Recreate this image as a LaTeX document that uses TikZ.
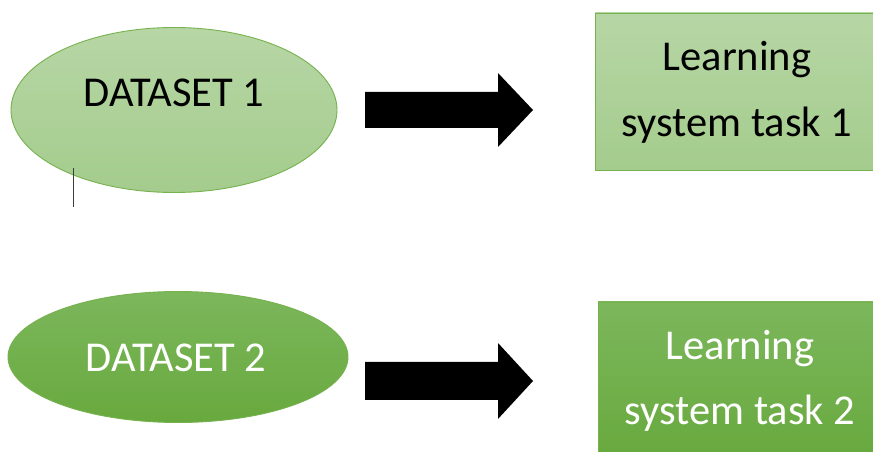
\documentclass[tikz,border=0pt]{standalone}
\usepackage{fontspec}
\setmainfont{Carlito}
\usetikzlibrary{shapes.geometric}
\definecolor{lgtop}{RGB}{183,214,165}
\definecolor{lgbot}{RGB}{164,204,141}
\definecolor{dgtop}{RGB}{124,183,92}
\definecolor{dgbot}{RGB}{104,169,62}
\definecolor{gline}{RGB}{118,178,78}
\definecolor{cursor}{RGB}{60,60,60}
\tikzset{
  lightshape/.style={draw=gline, line width=0.9pt, top color=lgtop, bottom color=lgbot, inner sep=0pt},
  darkshape/.style={draw=gline, line width=0.9pt, top color=dgtop, bottom color=dgbot, inner sep=0pt},
  lbl/.style={font=\fontsize{42.5}{50}\selectfont, inner sep=0pt, anchor=base},
  blockarrow/.style={fill=black, draw=none},
}
\begin{document}
\begin{tikzpicture}[x=1pt,y=1pt]
\useasboundingbox (0,0) rectangle (873,452);
\clip (0,0) rectangle (873,452);
\fill[white] (0,0) rectangle (873,452);
% ellipses
\node[lightshape, ellipse, minimum width=326pt, minimum height=165pt] (ds1) at (174,342) {};
\node[darkshape, ellipse, minimum width=340pt, minimum height=131pt] (ds2) at (178,95) {};
% rectangles
\node[lightshape, rectangle, minimum width=284pt, minimum height=157pt] (ls1) at (737,360.5) {};
\node[darkshape, rectangle, minimum width=284pt, minimum height=156pt] (ls2) at (740,72) {};
% texts
\node[lbl, text=black] (t1) at (174,345) {DATASET 1};
\node[lbl, text=white] (t2) at (176,80) {DATASET 2};
\node[lbl, text=black] (t3a) at (737,381) {Learning};
\node[lbl, text=black] (t3b) at (737,315) {system task 1};
\node[lbl, text=white] (t4a) at (740,92) {Learning};
\node[lbl, text=white] (t4b) at (740,27) {system task 2};
% block arrows
\coordinate (a1) at (365,342);
\coordinate (a2) at (365,71);
\fill[blockarrow] (a1) ++(0,18) -- ++(133,0) -- ++(0,19) -- (533,342) -- (498,305) -- ++(0,19) -- ++(-133,0) -- cycle;
\fill[blockarrow] (a2) ++(0,19) -- ++(133,0) -- ++(0,19) -- (533,71) -- (498,33) -- ++(0,19) -- ++(-133,0) -- cycle;
% cursor mark
\coordinate (c1) at (73,284);
\coordinate (c2) at (73,245);
\draw[cursor, line width=1pt] (c1) -- (c2);
\end{tikzpicture}
\end{document}
